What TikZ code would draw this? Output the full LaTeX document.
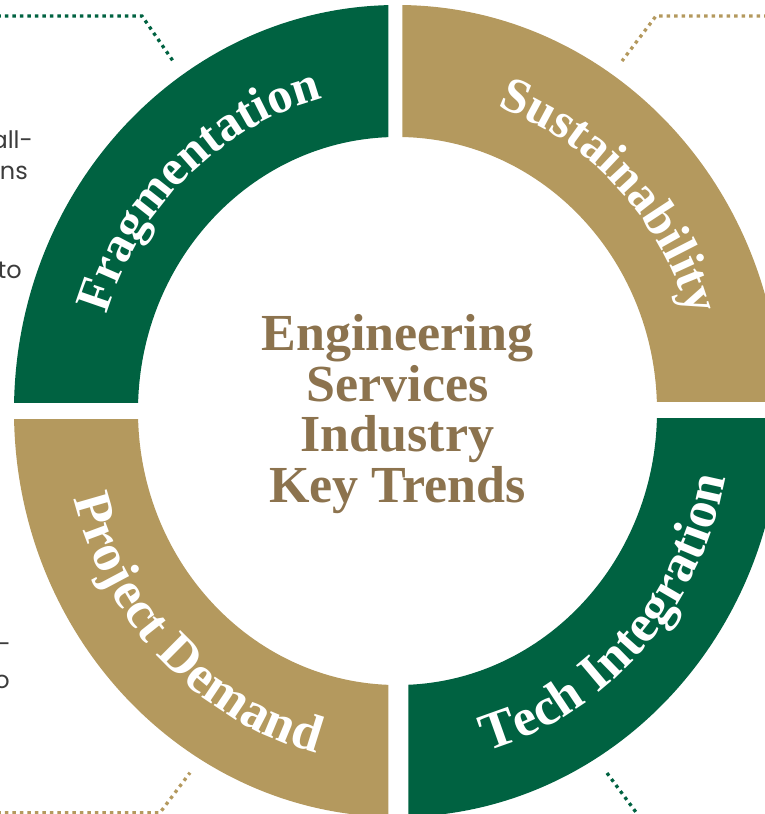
\documentclass[tikz,border=0pt]{standalone}
\usepackage{fontspec}
\setmainfont{Liberation Serif}
\newfontfamily\notefont{Poppins}
\usetikzlibrary{decorations.text}

\definecolor{trendgreen}{RGB}{0,98,65}
\definecolor{trendtan}{RGB}{180,153,94}
\definecolor{titletan}{RGB}{140,115,78}
\definecolor{notegray}{RGB}{60,60,60}

% text along one quarter of the ring: start angle, end angle, x radius, y radius, size, text
\newcommand{\trendarc}[6]{%
  \path[decorate,decoration={text along path,text align=center,text color=white,
    text={|\fontsize{#5}{#5}\selectfont\bfseries|#6}}]
    ({#3*cos(#1)},{#4*sin(#1)}) arc[start angle=#1,end angle=#2,x radius=#3,y radius=#4];}

\begin{document}
\begin{tikzpicture}[x=1pt,y=1pt,
  leader/.style={draw=#1,line width=3.3pt,dash pattern=on 3.3pt off 4.2pt},
  note/.style={text=notegray,font=\notefont\fontsize{24}{30}\selectfont,inner sep=0pt,anchor=base east},
  title/.style={text=titletan,font=\fontsize{52}{50.7}\selectfont\bfseries,align=center},
  ]
	\useasboundingbox (-397.5,-403) rectangle (367.5,411);
	\clip (-397.5,-403) rectangle (367.5,411);

	% the four quarters of the ring
	\foreach \cx/\cy/\dx/\dy/\col in {-9/9/-420/440/trendgreen, 5/10/420/440/trendtan,
	    11/-7/420/-440/trendgreen, -9/-8/-420/-440/trendtan}
	{
	  \begin{scope}
	    \clip (\cx,\cy) rectangle (\dx,\dy);
	    \fill[\col,even odd rule] (0,0) ellipse[x radius=383.5,y radius=406]
	      (0,0) ellipse[x radius=259.5,y radius=274];
	  \end{scope}
	}

	\trendarc{178}{88}{305}{322}{50}{Fragmentation}
	\trendarc{89.5}{-0.5}{305}{322}{50}{Sustainability}
	\trendarc{180.5}{270.5}{334}{353}{53}{Project Demand}
	\trendarc{-88}{2}{334}{353}{53}{Tech Integration}

	\node[title] (trends) at (0,-3) {Engineering\\Services\\Industry\\Key Trends};

	% leader lines
	\coordinate (fragA) at (-400,395);
	\coordinate (fragB) at (-255.5,395);
	\coordinate (fragC) at (-224.5,350);
	\coordinate (sustA) at (370,395);
	\coordinate (sustB) at (258.5,395);
	\coordinate (sustC) at (224.5,350);
	\coordinate (projA) at (-400,-401.7);
	\coordinate (projB) at (-237.5,-401.7);
	\coordinate (projC) at (-207.5,-361.7);
	\coordinate (techA) at (209.5,-362);
	\coordinate (techB) at (245,-410);
	\draw[leader=trendgreen] (fragA) -- (fragB) -- (fragC);
	\draw[leader=trendtan] (sustA) -- (sustB) -- (sustC);
	\draw[leader=trendtan] (projA) -- (projB) -- (projC);
	\draw[leader=trendgreen] (techA) -- (techB);

	% cut off notes at the left edge
	\node[note] (noteA) at (-364.5,262) {all-};
	\node[note] (noteB) at (-369.5,231) {ns};
	\node[note] (noteC) at (-375.5,132) {to};
	\node[note] (noteD) at (-386.5,-241) {y-};
	\node[note] (noteE) at (-387.5,-277) {o};
\end{tikzpicture}
\end{document}
